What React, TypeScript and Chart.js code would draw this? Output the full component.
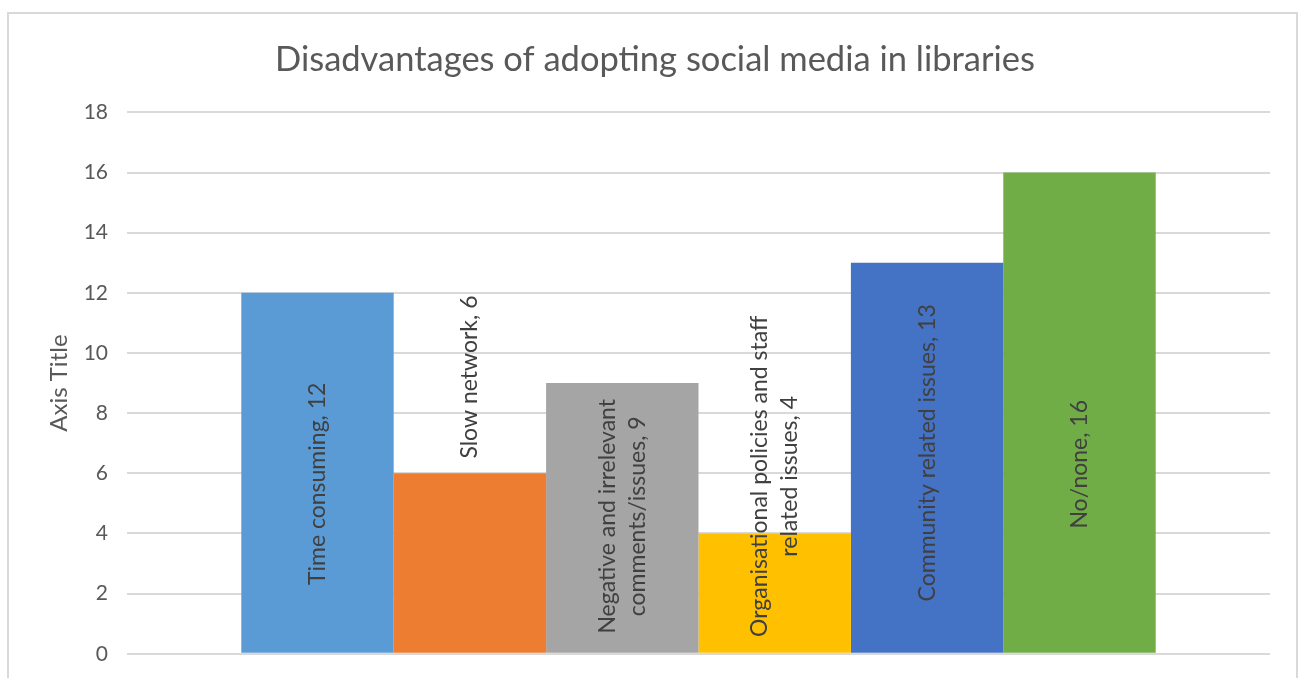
import React, { useEffect, useRef } from "react";
import { Chart, registerables } from "chart.js";

Chart.register(...registerables);

const chartTitle = "Disadvantages of adopting social media in libraries";
const yAxisTitle = "Axis Title";
const categories = [
  "Time consuming",
  "Slow network",
  "Negative and irrelevant\ncomments/issues",
  "Organisational policies and staff\nrelated issues",
  "Community related issues",
  "No/none",
];
const values = [12, 6, 9, 4, 13, 16];
const colors = ["#5B9BD5", "#ED7D31", "#A5A5A5", "#FFC000", "#4472C4", "#70AD47"];
// where (in axis units) the centre of each rotated data label sits
const labelAnchor = [5.65, 9.2, 4.57, 5.9, 6.68, 6.3];
const yMin = 0;
const yMax = 18;
const yStep = 2;

const FONT = "Lato, 'Open Sans', sans-serif";

const framePlugin = {
  id: "frame",
  beforeDraw(chart: any) {
    const ctx = chart.ctx;
    ctx.save();
    ctx.fillStyle = "#ffffff";
    ctx.fillRect(0, 0, chart.width, chart.height);
    ctx.strokeStyle = "#d9d9d9";
    ctx.lineWidth = 2;
    ctx.strokeRect(8, 13, chart.width - 11, chart.height + 40);
    ctx.restore();
  },
};

const labelPlugin = {
  id: "rotLabels",
  afterDatasetsDraw(chart: any) {
    const ctx = chart.ctx;
    const yScale = chart.scales.y;
    chart.data.datasets.forEach((ds: any, i: number) => {
      const meta = chart.getDatasetMeta(i);
      const el = meta.data[0];
      if (!el) return;
      const text = categories[i] + ", " + values[i];
      const lines = text.split("\n");
      const cy = yScale.getPixelForValue(labelAnchor[i]);
      ctx.save();
      ctx.translate(el.x, cy);
      ctx.rotate(-Math.PI / 2);
      ctx.font = "23px " + FONT;
      ctx.fillStyle = "#404040";
      ctx.textAlign = "center";
      ctx.textBaseline = "middle";
      const lh = 30;
      lines.forEach((ln, j) => {
        ctx.fillText(ln, 0, (j - (lines.length - 1) / 2) * lh);
      });
      ctx.restore();
    });
  },
};

export default function App() {
  const ref = useRef<HTMLCanvasElement>(null);
  useEffect(() => {
    if (!ref.current) return;
    const chart = new Chart(ref.current, {
      type: "bar",
      data: {
        labels: [""],
        datasets: categories.map((c, i) => ({
          label: c.replace("\n", " "),
          data: [values[i]],
          backgroundColor: colors[i],
          borderWidth: 0,
        })),
      },
      options: {
        animation: false,
        responsive: false,
        devicePixelRatio: 1,
        layout: { padding: { left: 40, right: 30, top: 0, bottom: 0 } },
        datasets: { bar: { categoryPercentage: 0.8, barPercentage: 1 } },
        plugins: {
          legend: { display: false },
          tooltip: { enabled: false },
          title: {
            display: true,
            text: chartTitle,
            color: "#595959",
            font: { family: FONT, size: 34.5, weight: "normal" },
            padding: { top: 39, bottom: 32 },
          },
        },
        scales: {
          x: { display: false, grid: { display: false } },
          y: {
            min: yMin,
            max: yMax,
            ticks: {
              stepSize: yStep,
              color: "#595959",
              font: { family: FONT, size: 21, lineHeight: 0.5 },
              padding: 19,
            },
            grid: { color: "#d9d9d9", lineWidth: 2, drawTicks: false },
            border: { display: false },
            title: {
              display: true,
              text: yAxisTitle,
              color: "#595959",
              font: { family: FONT, size: 24 },
              padding: { top: 5, bottom: 0 },
            },
            afterFit(scale: any) {
              scale.width = 87;
            },
          },
        },
      },
      plugins: [framePlugin, labelPlugin],
    } as any);
    return () => chart.destroy();
  }, []);
  return (
    <div style={{ position: "absolute", left: 0, top: 0, width: 1300, height: 678 }}>
      <canvas ref={ref} width={1300} height={678} style={{ display: "block" }} />
    </div>
  );
}
